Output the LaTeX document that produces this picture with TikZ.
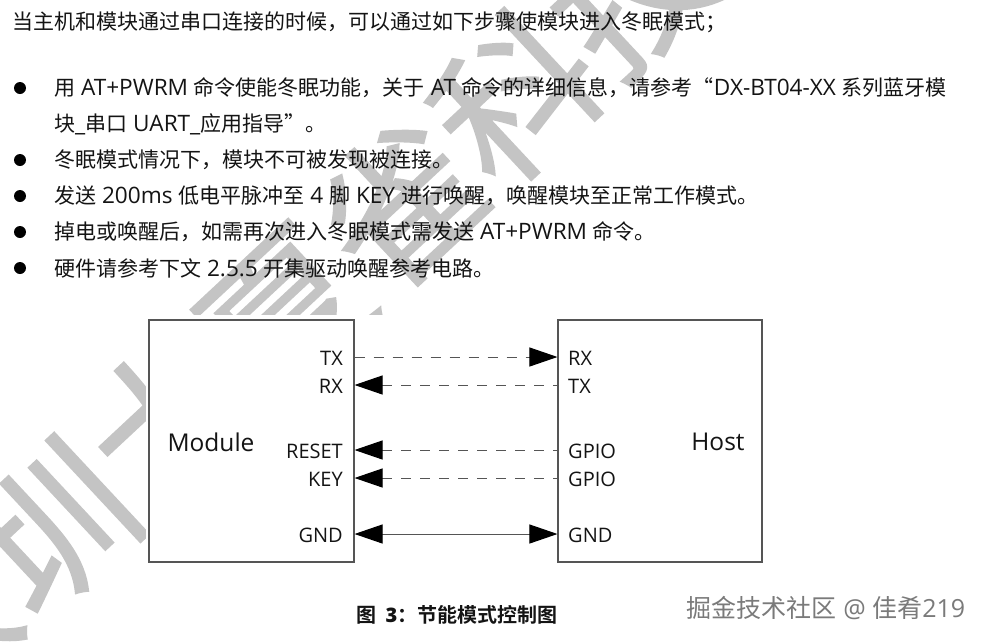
\documentclass[tikz,border=0pt]{standalone}
\usepackage{fontspec}
\usetikzlibrary{arrows.meta}
\setmainfont{Open Sans}
\newfontfamily\cjk{Noto Sans CJK SC}
\newfontfamily\cjkw{Noto Sans CJK SC}[FakeBold=1]
\newfontfamily\cjkb{Noto Sans CJK SC}[BoldFont={Noto Sans CJK SC Bold}]
\newcommand{\C}[1]{{\cjk #1}}
\newcommand{\Lt}[1]{{\fontsize{22.6}{23}\selectfont #1}}
\definecolor{wm}{HTML}{C4C4C4}
\definecolor{ink}{HTML}{141414}
\definecolor{edge}{HTML}{555555}
\tikzset{
  x=1pt,y=-1pt,
  body/.style={anchor=west,inner sep=0pt,text=ink,font=\fontsize{21}{21}\selectfont},
  dotmark/.style={circle,fill=black,inner sep=0pt,minimum size=12pt},
  block/.style={draw=edge,line width=1.1pt,fill=none,inner sep=0pt},
  pinl/.style={anchor=east,inner sep=0pt,text=ink,font=\fontsize{20}{20}\selectfont},
  pinr/.style={anchor=west,inner sep=0pt,text=ink,font=\fontsize{20}{20}\selectfont},
  title/.style={inner sep=0pt,text=ink,font=\fontsize{24.5}{24}\selectfont},
  link/.style={draw=edge,line width=1pt},
  dashlink/.style={link,dash pattern=on 10pt off 9pt},
  tip/.style={arrows={-{Triangle[length=28pt,width=19pt,fill=black,black]}}},
  tiprev/.style={arrows={{Triangle[length=28pt,width=19pt,fill=black,black]}-}},
  tipboth/.style={arrows={{Triangle[length=28pt,width=19pt,fill=black,black]}-{Triangle[length=28pt,width=19pt,fill=black,black]}}},
}
\begin{document}
\begin{tikzpicture}
\useasboundingbox (0,0) rectangle (984,643);
\fill[white] (0,0) rectangle (984,643);
% watermark
\begin{scope}
\clip (0,0) rectangle (984,643);
\node[rotate=43,text=wm,inner sep=0pt,font=\cjkw\fontsize{158}{158}\selectfont] (wmark) at (284,312) {深圳大夏雀科技};
\end{scope}
\fill[white] (146,315) rectangle (984,643);
% text
\node[body] (t0) at (12,22) {\C{当主机和模块通过串口连接的时候，可以通过如下步骤使模块进入冬眠模式；}};
\foreach \y/\n in {88/a,160/b,196/c,232/d,268/e}{\node[dotmark] (dot\n) at (20,\y) {};}
\node[body] (t1) at (54,88) {\C{用}\Lt{ AT+PWRM }\C{命令使能冬眠功能，关于}\Lt{ AT }\C{命令的详细信息，请参考“}\Lt{DX-BT04-XX }\C{系列蓝牙模}};
\node[body] (t2) at (54,124) {\C{块}\Lt{\_}\C{串口}\Lt{ UART\_}\C{应用指导”。}};
\node[body] (t3) at (54,160) {\C{冬眠模式情况下，模块不可被发现被连接。}};
\node[body] (t4) at (54,196) {\C{发送}\Lt{ 200ms }\C{低电平脉冲至}\Lt{ 4 }\C{脚}\Lt{ KEY }\C{进行唤醒，唤醒模块至正常工作模式。}};
\node[body] (t5) at (54,232) {\C{掉电或唤醒后，如需再次进入冬眠模式需发送}\Lt{ AT+PWRM }\C{命令。}};
\node[body] (t6) at (54,268) {\C{硬件请参考下文}\Lt{ 2.5.5 }\C{开集驱动唤醒参考电路。}};
% blocks
\node[block,minimum width=205pt,minimum height=242pt] (module) at (251.5,441) {};
\node[block,minimum width=204pt,minimum height=242pt] (host) at (660,441) {};
\node[title] (mt) at (211,442) {Module};
\node[title] (ht) at (718,442) {Host};
% pins
\foreach \n/\t/\y in {a/TX/358,b/RX/386,c/RESET/451,d/KEY/479,e/GND/535}{
  \node[pinl] (ml\n) at (343,\y) {\t};
  \coordinate (mp\n) at (module.east |- 0,\y-1);
}
\foreach \n/\t/\y in {a/RX/358,b/TX/386,c/GPIO/451,d/GPIO/479,e/GND/535}{
  \node[pinr] (hl\n) at (568,\y) {\t};
  \coordinate (hp\n) at (host.west |- 0,\y-1);
}
\draw[dashlink,tip] (mpa) -- (hpa);
\draw[dashlink,tiprev] (mpb) -- (hpb);
\draw[dashlink,tiprev] (mpc) -- (hpc);
\draw[dashlink,tiprev] (mpd) -- (hpd);
\draw[link,tipboth] (mpe) -- (hpe);
% caption
\node[inner sep=0pt,text=ink,font=\cjkb\bfseries\fontsize{20}{20}\selectfont] (cap) at (457,615) {图\hspace{9pt}{\fontspec{Open Sans Bold}3}：节能模式控制图};
% site mark
\node[inner sep=0pt,text=black!52,font=\fontsize{25}{25}\selectfont] (site) at (826,608) {\C{掘金技术社区} @ \C{佳肴}219};
\end{tikzpicture}
\end{document}
